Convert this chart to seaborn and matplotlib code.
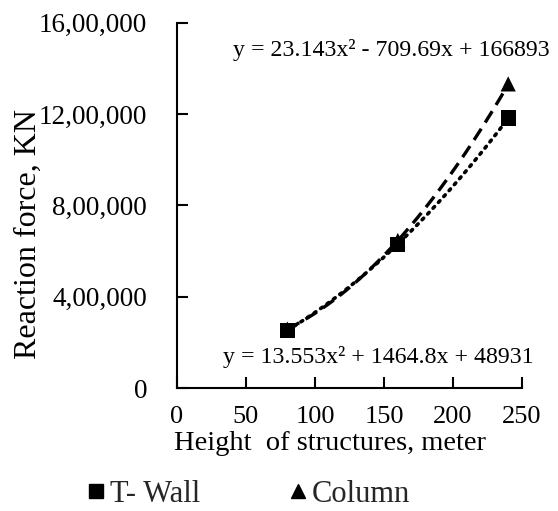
import numpy as np
import pandas as pd
import matplotlib
matplotlib.use("Agg")
import matplotlib.pyplot as plt
from matplotlib.lines import Line2D
from matplotlib.ticker import FuncFormatter
import seaborn as sns

# Structure heights (m) and support reactions (kN)
heights = [80, 160, 240]
t_wall = [253000, 630000, 1183000]
column = [258000, 646000, 1332000]

# Quadratic trendline coefficients (a, b, c) for y = a x^2 + b x + c
t_wall_fit = [13.553, 1464.8, 48931]
column_fit = [23.143, -709.69, 166893]

series_names = ["T- Wall", "Column"]
x_ticks = [0, 50, 100, 150, 200, 250]
y_ticks = [0, 400000, 800000, 1200000, 1600000]

sns.set_theme(style="white")
plt.rcParams["font.family"] = ["Liberation Serif", "DejaVu Serif"]

df = pd.DataFrame({
    "height": heights * 2,
    "force": t_wall + column,
    "series": [series_names[0]] * 3 + [series_names[1]] * 3,
})

fig = plt.figure(figsize=(5.58, 5.11), dpi=100)
ax = fig.add_axes([177 / 558, 1 - 388 / 511, (522 - 177) / 558, (388 - 22.7) / 511])


def indian(v, _pos=None):
    """Format a number with Indian digit grouping (lakh / crore)."""
    s = str(int(round(v)))
    if len(s) <= 3:
        return s
    head, tail = s[:-3], s[-3:]
    groups = []
    while len(head) > 2:
        groups.insert(0, head[-2:])
        head = head[:-2]
    if head:
        groups.insert(0, head)
    return ",".join(groups + [tail])


# Polynomial trendlines over the data range
xs = np.linspace(min(heights), max(heights), 200)
ax.plot(xs, np.polyval(t_wall_fit, xs), color="black", lw=2.6,
        linestyle=(0, (0.6, 1.6)), dash_capstyle="round", zorder=2)
ax.plot(xs, np.polyval(column_fit, xs), color="black", lw=2.4,
        linestyle=(0, (4, 2.2)), zorder=2)

sns.scatterplot(data=df, x="height", y="force", hue="series", style="series",
                markers={"T- Wall": "s", "Column": "^"},
                palette={"T- Wall": "black", "Column": "black"},
                s=120, edgecolor="black", linewidth=0, legend=False, ax=ax, zorder=3)

ax.set_xlim(0, 250)
ax.set_ylim(0, 1600000)
ax.set_xticks(x_ticks)
ax.set_yticks(y_ticks)
ax.yaxis.set_major_formatter(FuncFormatter(indian))
ax.tick_params(axis="both", which="major", direction="in", length=8, width=1.5,
               color="black", labelcolor="black", left=True, bottom=True)
ax.tick_params(axis="y", pad=21.5, labelsize=19.5)
ax.tick_params(axis="x", pad=13, labelsize=19)
for side in ("top", "right"):
    ax.spines[side].set_visible(False)
for side in ("left", "bottom"):
    ax.spines[side].set_color("black")
    ax.spines[side].set_linewidth(1.5)

ax.set_xlabel("Height  of structures, meter", fontsize=20.5, color="black")
ax.xaxis.label.set_va("center")
ax.xaxis.set_label_coords(0.443, -0.153)
ax.set_ylabel("Reaction force, KN", fontsize=23, color="black")
ax.yaxis.label.set_va("center")
ax.yaxis.set_label_coords(-0.432, 0.4216)

ax.text(0.620, 0.925, "y = 23.143x² - 709.69x + 166893", transform=ax.transAxes,
        ha="center", va="center", fontsize=17.2, color="black")
ax.text(0.583, 0.085, "y = 13.553x² + 1464.8x + 48931", transform=ax.transAxes,
        ha="center", va="center", fontsize=17.2, color="black")

handles = [
    Line2D([], [], marker="s", color="black", linestyle="none", markersize=10.5),
    Line2D([], [], marker="^", color="black", linestyle="none", markersize=10.5),
]
fig.legend(handles, series_names, loc="center", bbox_to_anchor=(247 / 558, 1 - 494 / 511),
           ncol=2, frameon=False, fontsize=22, handletextpad=0.05, columnspacing=2.8,
           handlelength=0.8)

fig.savefig("out.png", dpi=100)
